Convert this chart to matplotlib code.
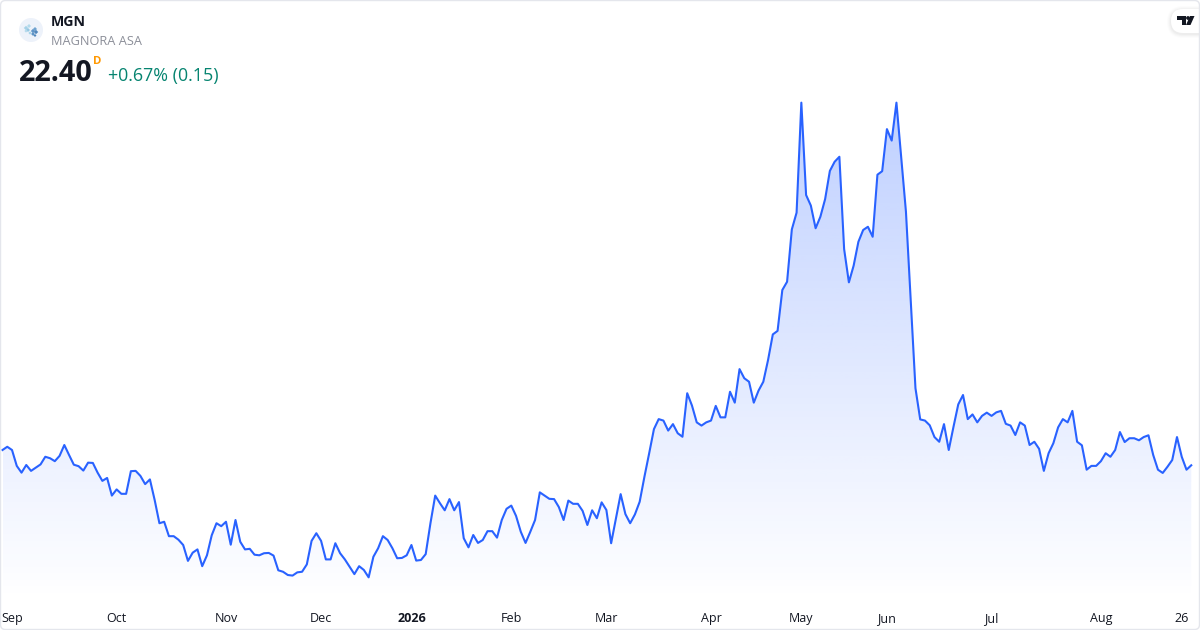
import numpy as np
import matplotlib
matplotlib.use("Agg")
import matplotlib.pyplot as plt
from matplotlib.patches import FancyBboxPatch, Circle, Polygon

prices_sep_oct = [22.92,23.03,22.92,22.38,22.15,22.41,22.21,22.32,22.43,22.69,22.64,22.54,22.72,23.09,22.75,22.42,22.37,22.22,22.49,22.48,22.15,21.87,21.97,21.37,
                  21.58,21.43,21.43,22.20,22.21,22.04,21.76,21.92,21.22,20.43,20.48,19.99,19.99,19.87,19.69,19.15,19.43,19.54,18.97,19.34,20.02,20.43,20.33]
prices_nov_dec = [20.48,19.70,20.54,19.80,19.54,19.56,19.36,19.34,19.41,19.42,19.33,18.83,18.78,18.67,18.65,18.76,18.78,19.03,19.83,20.09,
                  19.83,19.20,19.20,19.75,19.41,19.20,18.95,18.70,18.97,18.84,18.59,19.29,19.58,19.99,19.86,19.58,19.24,19.25,19.34]
prices_jan_feb = [19.69,19.16,19.18,19.38,20.43,21.37,21.11,20.87,21.25,20.87,21.15,19.92,19.61,20.03,19.76,19.86,20.16,20.16,19.94,20.54,20.92,
                  21.03,20.68,20.14,19.76,20.14,20.54,21.48,21.37,21.26,21.25,20.98,20.54,21.20,21.09,21.09,20.85,20.37,20.87,20.60]
prices_mar_apr = [21.14,20.88,19.75,20.58,21.42,20.74,20.43,20.73,21.16,22.01,22.81,23.63,23.97,23.92,23.58,23.80,23.49,23.37,24.85,24.43,23.86,23.75,
                  23.86,23.92,24.42,24.03,24.03,24.90,24.53,25.67,25.36,25.24,24.53,24.94,25.24,25.98,26.85,26.97,28.36,28.64,30.42,30.99]
prices_may_jun = [34.73,31.59,31.23,30.46,30.85,31.45,32.41,32.72,32.89,29.75,28.62,29.19,30.00,30.40,30.51,30.17,32.28,32.40,33.83,33.44,34.73,32.89,31.02,28.02,
                  25.02,23.96,23.92,23.76,23.36,23.20,23.80,22.92,23.71,24.47,24.79,23.97,24.13,23.86,24.08,24.19]
prices_jul_aug = [24.08,24.20,24.25,23.81,23.75,23.43,23.86,23.75,23.09,23.20,22.96,22.21,22.81,23.15,23.69,23.97,23.86,24.25,23.20,23.08,22.25,22.38,22.38,22.54,
                  22.81,22.69,22.92,23.53,23.19,23.32,23.32,23.25,23.36,23.42,22.75,22.25,22.14,22.35,22.58,23.36,22.69,22.25,22.40]
prices = np.array(prices_sep_oct + prices_nov_dec + prices_jan_feb + prices_mar_apr + prices_may_jun + prices_jul_aug)
index = np.arange(len(prices))

tick_index = [24, 47, 67, 86, 107, 127, 149, 168, 186, 208, 231, 248]
tick_labels = ["Oct", "Nov", "Dec", "2026", "Feb", "Mar", "Apr", "May", "Jun", "Jul", "Aug", "26"]
first_label = "Sep"
symbol = "MGN"
name = "MAGNORA ASA"
last_price = "22.40"
change_text = "+0.67% (0.15)"
interval = "D"

plt.rcParams["font.family"] = ["Open Sans", "DejaVu Sans"]
LINE = "#2962FF"
INK = "#131722"

fig = plt.figure(figsize=(12, 6.3), dpi=100, facecolor="white")
ax = fig.add_axes([0, 0, 1, 1])
ax.set_xlim(-0.526, 251.84)
ax.set_ylim(16.80, 38.22)
ax.axis("off")

# area fill with a vertical fade
base = 17.82
top = prices.max()
h = 256
grad = np.zeros((h, 2, 4))
grad[..., 0] = 0x29 / 255
grad[..., 1] = 0x62 / 255
grad[..., 2] = 1.0
grad[..., 3] = np.linspace(0.30, 0.0, h)[:, None]
im = ax.imshow(grad, extent=[index[0], index[-1], base, top], aspect="auto", origin="upper",
               interpolation="bilinear", zorder=1)
clip = Polygon(np.vstack([np.column_stack([index, prices]), [index[-1], base], [index[0], base]]),
               closed=True, transform=ax.transData, facecolor="none", edgecolor="none")
ax.add_patch(clip)
im.set_clip_path(clip)
ax.set_xlim(-0.526, 251.84)
ax.set_ylim(16.80, 38.22)

ax.plot(index, prices, color=LINE, lw=1.5, solid_joinstyle="round", zorder=3)

# time axis labels
label_y = 16.80 + (630 - 618.6) * (38.22 - 16.80) / 630
for i, lab in zip(tick_index, tick_labels):
    bold = lab == "2026"
    ax.text(i, label_y, lab, ha="center", va="center", fontsize=9.0, color=INK,
            fontweight="bold" if bold else "normal", zorder=4)
ax.text(-0.2, label_y, first_label, ha="left", va="center", fontsize=9.0, color=INK, zorder=4)

# overlay in screen pixels for the header and frame
ov = fig.add_axes([0, 0, 1, 1], facecolor="none")
ov.set_xlim(0, 1200)
ov.set_ylim(630, 0)
ov.axis("off")

ov.add_patch(FancyBboxPatch((0.5, 0.5), 1199, 629, boxstyle="round,pad=0,rounding_size=5",
                            fc="none", ec="#E4E6EC", lw=1.0, zorder=10))

# symbol logo
ov.add_patch(Circle((31, 30), 12, fc="#EDF2FA", ec="none", zorder=5))
for cx, cy, s, c in [(26, 28, 2.2, "#A5D2E8"), (29, 26, 2.0, "#B3DAEC"), (28, 30, 2.0, "#95C7E2"), (26, 31, 1.6, "#B3DAEC"),
                     (30, 33, 1.6, "#A5D2E8"), (35, 29, 2.0, "#6FA3D0"), (33, 31, 2.2, "#5F95C8"), (36, 32, 2.2, "#4F86BC"),
                     (33, 34, 1.9, "#5C93C6"), (35, 35.5, 1.5, "#4F86BC")]:
    ov.add_patch(Polygon([(cx - s, cy), (cx, cy - s), (cx + s, cy), (cx, cy + s)], fc=c, ec="none", zorder=6))

ov.text(51, 21.5, symbol, fontsize=10.2, fontweight="bold", color=INK, va="center", ha="left", zorder=6)
ov.text(51, 41.6, name, fontsize=9.2, color="#8C8F99", va="center", ha="left", zorder=6)
ov.text(19, 73.2, last_price, fontsize=20.8, fontweight="bold", color="#131722", va="center", ha="left", zorder=6)
ov.text(93, 61.5, interval, fontsize=8.2, fontweight="bold", color="#FF9800", va="center", ha="left", zorder=6)
ov.text(108, 75.6, change_text, fontsize=12.85, color="#068470", va="center", ha="left", zorder=6)

# TradingView badge
for pad, a in [(4, 0.012), (3, 0.016), (2, 0.02), (1, 0.025)]:
    ov.add_patch(FancyBboxPatch((1171 - pad, 9 - pad + 1), 45 + pad, 24 + 2 * pad,
                                boxstyle="round,pad=0,rounding_size=%d" % (12 + pad),
                                fc="black", ec="none", alpha=a, zorder=7, clip_on=True))
ov.add_patch(FancyBboxPatch((1171, 9), 45, 24, boxstyle="round,pad=0,rounding_size=12", fc="white", ec="none", zorder=8))
ov.add_patch(Polygon([(1177, 16), (1185.5, 16), (1185.5, 25), (1181.5, 25), (1181.5, 20), (1177, 20)], fc="#131722", ec="none", zorder=9))
ov.add_patch(Circle((1188, 18), 1.9, fc="#131722", ec="none", zorder=9))
ov.add_patch(Polygon([(1190, 16), (1194.5, 16), (1190.5, 25), (1186, 25)], fc="#131722", ec="none", zorder=9))

fig.savefig("out.png", dpi=100, facecolor="white")
